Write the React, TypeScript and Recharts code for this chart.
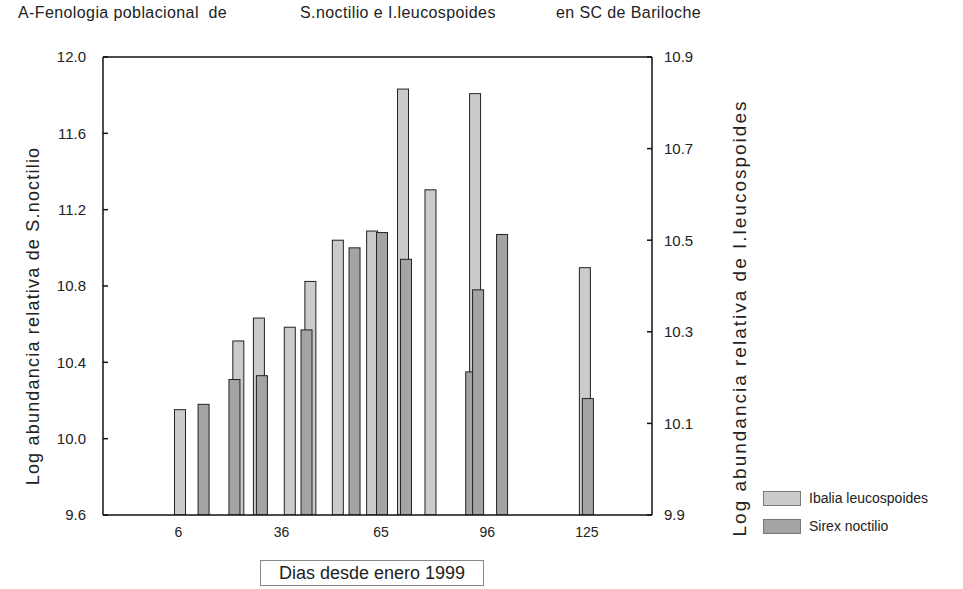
import { Bar, BarChart, Legend, ReferenceLine, XAxis, YAxis } from 'recharts'

// days since January 1999
const days = [7, 13, 22, 24, 30, 39, 43, 45, 53, 57, 63, 65, 72, 80, 91, 93, 100, 125]
// log relative abundance of I. leucospoides (right axis)
const ibalia = [10.13, null, null, 10.28, 10.33, 10.31, null, 10.41, 10.5, null, 10.52, null, 10.83, 10.61, null, 10.82, null, 10.44]
// log relative abundance of S. noctilio (left axis)
const sirex = [null, 10.18, 10.31, null, 10.33, null, 10.57, null, null, 11.0, null, 11.08, 10.94, null, 10.35, 10.78, 11.07, 10.21]

const xTicks = [6, 36, 65, 96, 125]
const leftTicks = [9.6, 10.0, 10.4, 10.8, 11.2, 11.6, 12.0]
const rightTicks = [9.9, 10.1, 10.3, 10.5, 10.7, 10.9]

const data = days.map((d, i) => ({ day: d, ibalia: ibalia[i], sirex: sirex[i] }))

const font = '"Liberation Sans", Arial, sans-serif'

// fixed-width bar drawn around the centre recharts computed
const BarShape = (props: any) => {
  const { x, y, width, height, fill } = props
  if (!height || height <= 0) return null
  const cx = x + width / 2
  return <rect x={cx - 5.5} y={y} width={11} height={height} fill={fill} stroke="#222" strokeWidth={1} />
}

const LegendBox = (props: any) => {
  const order = ['Ibalia leucospoides', 'Sirex noctilio']
  const items = [...(props.payload || [])].sort((a: any, b: any) => order.indexOf(a.value) - order.indexOf(b.value))
  return (
    <div style={{ fontFamily: font, fontSize: 14, color: '#222' }}>
      {items.map((p: any) => (
        <div key={p.value} style={{ display: 'flex', alignItems: 'center', height: 28 }}>
          <span style={{ display: 'inline-block', width: 36, height: 13, background: p.color, border: '1px solid #777', marginRight: 8 }} />
          {p.value}
        </div>
      ))}
    </div>
  )
}

const titleStyle = { position: 'absolute' as const, top: 4, fontSize: 16, letterSpacing: 0.4, color: '#222', whiteSpace: 'pre' as const }

export default function App() {
  return (
    <div style={{ position: 'fixed', left: 0, top: 0, width: 963, height: 589, background: '#fff', fontFamily: font }}>
      <div style={{ ...titleStyle, left: 18 }}>A-Fenologia poblacional  de</div>
      <div style={{ ...titleStyle, left: 300 }}>S.noctilio e I.leucospoides</div>
      <div style={{ ...titleStyle, left: 556 }}>en SC de Bariloche</div>

      <BarChart width={963} height={589} data={data} margin={{ top: 57, right: 251, bottom: 44, left: 33 }} barCategoryGap={0} barGap={0}>
        <XAxis dataKey="day" type="number" domain={[-16, 144]} allowDataOverflow ticks={xTicks} tickLine={false} tickMargin={6} height={30} stroke="#111" strokeWidth={1.5} tick={{ fill: '#222', fontSize: 14, fontFamily: font }} />
        <YAxis yAxisId="left" domain={[9.6, 12]} allowDataOverflow ticks={leftTicks} tickFormatter={(v) => v.toFixed(1)} width={70} tickSize={-5} tickMargin={22} stroke="#111" strokeWidth={1.5} tick={{ fill: '#222', fontSize: 15, fontFamily: font }} />
        <YAxis yAxisId="right" orientation="right" domain={[9.9, 10.9]} allowDataOverflow ticks={rightTicks} tickFormatter={(v) => v.toFixed(1)} width={60} tickSize={-5} tickMargin={17} stroke="#111" strokeWidth={1.5} tick={{ fill: '#222', fontSize: 15, fontFamily: font }} />
        <ReferenceLine yAxisId="left" y={12} stroke="#111" strokeWidth={1.5} />
        <Legend layout="vertical" verticalAlign="middle" align="center" wrapperStyle={{ left: 763, top: 484, width: 200 }} content={<LegendBox />} />
        <Bar yAxisId="right" dataKey="ibalia" name="Ibalia leucospoides" fill="#cbcbcb" shape={<BarShape />} isAnimationActive={false} />
        <Bar yAxisId="left" dataKey="sirex" name="Sirex noctilio" fill="#a4a4a4" shape={<BarShape />} isAnimationActive={false} />
      </BarChart>

      <div style={{ position: 'absolute', left: 33, top: 316, transform: 'translate(-50%, -50%) rotate(-90deg)', fontSize: 18, letterSpacing: 1.2, color: '#222', whiteSpace: 'nowrap' }}>
        Log abundancia relativa de S.noctilio
      </div>
      <div style={{ position: 'absolute', left: 740, top: 318, transform: 'translate(-50%, -50%) rotate(-90deg)', fontSize: 19, letterSpacing: 2, color: '#222', whiteSpace: 'nowrap' }}>
        Log abundancia relativa de I.leucospoides
      </div>
      <div style={{ position: 'absolute', left: 260, top: 560, width: 224, height: 26, border: '1px solid #888', boxSizing: 'border-box', fontSize: 18, color: '#222', textAlign: 'center', lineHeight: '24px' }}>
        Dias desde enero 1999
      </div>
    </div>
  )
}
